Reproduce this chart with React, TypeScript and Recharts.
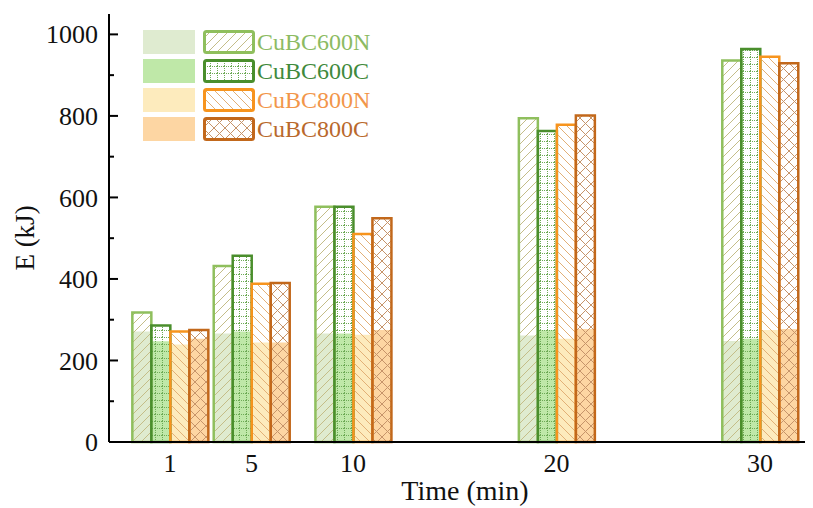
import React from "react";
import { BarChart, Bar, XAxis, YAxis } from "recharts";

// sampling times (min)
const times = [1, 5, 10, 20, 30];

// total energy E (kJ) per sample
const total600N = [318, 432, 577, 794, 936];
const total600C = [286, 457, 577, 763, 964];
const total800N = [271, 388, 510, 778, 945];
const total800C = [275, 390, 549, 801, 929];

// lower (filled) portion of each bar
const base600N = [271, 266, 266, 261, 248];
const base600C = [247, 271, 266, 274, 253];
const base800N = [239, 244, 263, 253, 275];
const base800C = [253, 244, 275, 277, 277];

const yTicks = [0, 100, 200, 300, 400, 500, 600, 700, 800, 900, 1000];

const SERIF = '"Liberation Serif", "Times New Roman", serif';

interface SeriesStyle {
  key: string;
  total: number[];
  base: number[];
  stroke: string;
  fill: string;
  pattern: string;
  text: string;
}

const series: SeriesStyle[] = [
  { key: "CuBC600N", total: total600N, base: base600N, stroke: "#8fbf5d", fill: "#dfebd0", pattern: "hatch600N", text: "#8cbb62" },
  { key: "CuBC600C", total: total600C, base: base600C, stroke: "#4a8e2c", fill: "#bfe8a8", pattern: "grid600C", text: "#3f8a3c" },
  { key: "CuBC800N", total: total800N, base: base800N, stroke: "#f7941d", fill: "#fdebbd", pattern: "hatch800N", text: "#f2964a" },
  { key: "CuBC800C", total: total800C, base: base800C, stroke: "#c2681b", fill: "#fdd6a3", pattern: "cross800C", text: "#b9692c" },
];

const data = times.map((t, i) => {
  const row: Record<string, number> = { t };
  series.forEach((s) => {
    row[s.key] = s.total[i];
    row[`${s.key}_base`] = s.base[i];
  });
  return row;
});

function Patterns() {
  return (
    <svg width={0} height={0} style={{ position: "absolute" }}>
      <defs>
        <pattern id="hatch600N" patternUnits="userSpaceOnUse" width={9} height={9}>
          <path d="M-1,1 L1,-1 M0,9 L9,0 M8,10 L10,8" stroke="#c4bd88" strokeWidth={1} />
        </pattern>
        <pattern id="grid600C" patternUnits="userSpaceOnUse" width={7} height={7}>
          <path d="M0,0.5 H7" stroke="#6daa55" strokeWidth={1} strokeDasharray="1 1" />
          <path d="M0.5,0 V7" stroke="#6daa55" strokeWidth={1} strokeDasharray="1 1" />
        </pattern>
        <pattern id="hatch800N" patternUnits="userSpaceOnUse" width={9} height={9}>
          <path d="M-1,8 L1,10 M0,0 L9,9 M8,-1 L10,1" stroke="#e2b077" strokeWidth={1} />
        </pattern>
        <pattern id="cross800C" patternUnits="userSpaceOnUse" width={11} height={11}>
          <path d="M0,0 L11,11 M11,0 L0,11" stroke="#c6946a" strokeWidth={1} />
        </pattern>
      </defs>
    </svg>
  );
}

const Y_TICK_MARGIN = 11;

function YTick(props: any) {
  const { x, y, payload } = props;
  const major = payload.value % 200 === 0;
  const ax = x + Y_TICK_MARGIN;
  return (
    <g>
      <line x1={ax} x2={ax + (major ? 9 : 5)} y1={y} y2={y} stroke="#000" strokeWidth={2} />
      {major && (
        <text x={x} y={y} dy="0.35em" textAnchor="end" fontSize={26} fill="#111" fontFamily={SERIF}>
          {payload.value}
        </text>
      )}
    </g>
  );
}

function YLabel(props: any) {
  const { viewBox } = props;
  const cx = viewBox.x + 17;
  const cy = viewBox.y + viewBox.height / 2 + 10;
  return (
    <text
      x={cx}
      y={cy}
      transform={`rotate(-90, ${cx}, ${cy})`}
      textAnchor="middle"
      dominantBaseline="central"
      fontSize={27}
      fill="#111"
      fontFamily={SERIF}
    >
      E (kJ)
    </text>
  );
}

function SeriesLegend() {
  return (
    <div style={{ position: "absolute", left: 135, top: 22, fontFamily: SERIF }}>
      {series.map((s) => (
        <div key={s.key} style={{ display: "flex", alignItems: "center", height: 24, marginBottom: 5 }}>
          <div style={{ width: 52, height: 24, background: s.fill }} />
          <svg width={52} height={24} style={{ marginLeft: 8 }}>
            <rect x={1.5} y={1.5} width={49} height={21} rx={2} fill={`url(#${s.pattern})`} stroke={s.stroke} strokeWidth={3} />
          </svg>
          <span style={{ marginLeft: 2, fontSize: 24, color: s.text, lineHeight: "24px" }}>{s.key}</span>
        </div>
      ))}
    </div>
  );
}

export default function App() {
  return (
    <div style={{ position: "relative", width: 805, height: 500, overflow: "hidden", fontFamily: SERIF }}>
      <Patterns />
      <BarChart
        width={830}
        height={500}
        data={data}
        barGap={0}
        margin={{ top: 6, right: 17, bottom: 0, left: 0 }}
      >
        <XAxis
          xAxisId="bottom"
          dataKey="t"
          type="number"
          domain={[-2, 33]}
          ticks={times}
          interval={0}
          height={66}
          tickSize={0}
          tickMargin={12}
          tickLine={false}
          axisLine={{ stroke: "#000", strokeWidth: 2 }}
          tick={{ fontSize: 26, fill: "#111", fontFamily: SERIF }}
          label={{ value: "Time (min)", position: "insideBottom", offset: 8, fontSize: 28, fill: "#111", fontFamily: SERIF }}
        />
        <XAxis
          xAxisId="top"
          orientation="top"
          dataKey="t"
          type="number"
          domain={[-2, 33]}
          ticks={times}
          height={0}
          tick={false}
          tickLine={false}
          axisLine={{ stroke: "#000", strokeWidth: 2 }}
        />
        <YAxis
          type="number"
          domain={[0, 1050]}
          ticks={yTicks}
          interval={0}
          width={101}
          tickSize={0}
          tickMargin={Y_TICK_MARGIN}
          tickLine={false}
          axisLine={{ stroke: "#000", strokeWidth: 2 }}
          tick={<YTick />}
          label={<YLabel />}
        />
        {series.map((s) => (
          <Bar
            key={`${s.key}_base`}
            xAxisId="top"
            dataKey={`${s.key}_base`}
            barSize={19}
            fill={s.fill}
            isAnimationActive={false}
          />
        ))}
        {series.map((s) => (
          <Bar
            key={s.key}
            xAxisId="bottom"
            dataKey={s.key}
            barSize={19}
            fill={`url(#${s.pattern})`}
            stroke={s.stroke}
            strokeWidth={2.5}
            isAnimationActive={false}
          />
        ))}
      </BarChart>
      <SeriesLegend />
    </div>
  );
}
